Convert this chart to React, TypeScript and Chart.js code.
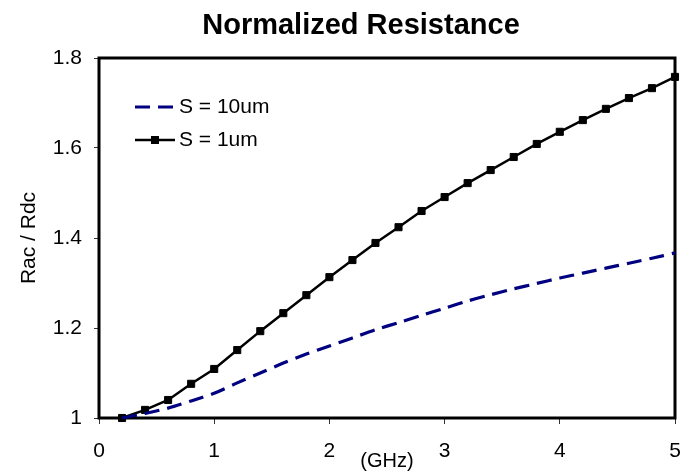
import React, { useEffect, useRef } from "react";
import { Chart, registerables } from "chart.js";

Chart.register(...registerables);

const FONT = "'Liberation Sans', Arial, Helvetica, sans-serif";

const chartTitle = "Normalized Resistance";
const xAxisTitle = "(GHz)";
const yAxisTitle = "Rac / Rdc";
const seriesLabels = ["S = 10um", "S = 1um"];

const frequencyGHz = [
  0.2, 0.4, 0.6, 0.8, 1.0, 1.2, 1.4, 1.6, 1.8, 2.0, 2.2, 2.4, 2.6,
  2.8, 3.0, 3.2, 3.4, 3.6, 3.8, 4.0, 4.2, 4.4, 4.6, 4.8, 5.0,
];

const s10umValues = [
  1.0, 1.01, 1.022, 1.038, 1.055, 1.078, 1.1, 1.122, 1.142, 1.16, 1.178,
  1.196, 1.212, 1.228, 1.244, 1.26, 1.274, 1.287, 1.299, 1.311, 1.322,
  1.333, 1.344, 1.355, 1.367,
];

const s1umValues = [
  1.0, 1.018, 1.04, 1.076, 1.109, 1.151, 1.193, 1.233, 1.273, 1.313, 1.351,
  1.389, 1.424, 1.46, 1.491, 1.522, 1.551, 1.58, 1.609, 1.636, 1.662,
  1.687, 1.711, 1.733, 1.758,
];

const xTickValues = [0, 1, 2, 3, 4, 5];
const yTickValues = [1, 1.2, 1.4, 1.6, 1.8];

const NAVY = "#000080";

export default function App() {
  const canvasRef = useRef<HTMLCanvasElement | null>(null);

  useEffect(() => {
    const canvas = canvasRef.current;
    if (!canvas) return;

    const framePlugin = {
      id: "frameBox",
      beforeDatasetsDraw(chart: any) {
        const { ctx, chartArea } = chart;
        ctx.save();
        ctx.strokeStyle = "#000";
        ctx.lineWidth = 3;
        ctx.strokeRect(
          chartArea.left,
          chartArea.top,
          chartArea.right - chartArea.left,
          chartArea.bottom - chartArea.top
        );
        ctx.restore();
      },
    };

    const titlePlugin = {
      id: "customTitle",
      afterDraw(chart: any) {
        const { ctx } = chart;
        ctx.save();
        ctx.fillStyle = "#000";
        ctx.font = `bold 29px ${FONT}`;
        ctx.textAlign = "center";
        ctx.textBaseline = "middle";
        ctx.fillText(chartTitle, 361, 26);
        ctx.restore();
      },
    };

    const legendPlugin = {
      id: "insideLegend",
      afterDatasetsDraw(chart: any) {
        const { ctx, chartArea } = chart;
        const x0 = chartArea.left + 36;
        const x1 = chartArea.left + 76;
        const y0 = chartArea.top + 49;
        const y1 = chartArea.top + 82;
        ctx.save();
        ctx.strokeStyle = NAVY;
        ctx.lineWidth = 3;
        ctx.setLineDash([15, 8]);
        ctx.beginPath();
        ctx.moveTo(x0, y0);
        ctx.lineTo(x1, y0);
        ctx.stroke();
        ctx.setLineDash([]);
        ctx.strokeStyle = "#000";
        ctx.lineWidth = 2.5;
        ctx.beginPath();
        ctx.moveTo(x0, y1);
        ctx.lineTo(x1, y1);
        ctx.stroke();
        ctx.fillStyle = "#000";
        ctx.fillRect((x0 + x1) / 2 - 4, y1 - 4, 8, 8);
        ctx.font = `21px ${FONT}`;
        ctx.textAlign = "left";
        ctx.textBaseline = "middle";
        ctx.fillText(seriesLabels[0], x1 + 4, y0);
        ctx.fillText(seriesLabels[1], x1 + 4, y1);
        ctx.restore();
      },
    };

    const chart = new Chart(canvas, {
      type: "line",
      data: {
        datasets: [
          {
            label: seriesLabels[0],
            data: frequencyGHz.map((x, i) => ({ x, y: s10umValues[i] })),
            borderColor: NAVY,
            borderWidth: 3.2,
            borderDash: [15, 8],
            pointRadius: 0,
            tension: 0.3,
            fill: false,
            clip: false as any,
          },
          {
            label: seriesLabels[1],
            data: frequencyGHz.map((x, i) => ({ x, y: s1umValues[i] })),
            borderColor: "#000",
            borderWidth: 2.5,
            pointStyle: "rect",
            pointRadius: 5,
            pointBackgroundColor: "#000",
            pointBorderColor: "#000",
            pointBorderWidth: 1,
            tension: 0,
            fill: false,
            clip: false as any,
          },
        ],
      },
      options: {
        animation: false,
        responsive: false,
        maintainAspectRatio: false,
        layout: { padding: { top: 58, right: 14, left: 0, bottom: 0 } },
        plugins: {
          legend: { display: false },
          title: { display: false },
          tooltip: { enabled: false },
        },
        scales: {
          x: {
            type: "linear",
            min: 0,
            max: 5,
            afterFit: (scale: any) => {
              scale.height = 55;
              scale.paddingLeft = 0;
              scale.paddingRight = 0;
            },
            afterBuildTicks: (scale: any) => {
              scale.ticks = xTickValues.map((v) => ({ value: v }));
            },
            ticks: {
              color: "#000",
              font: { family: FONT, size: 21 },
              padding: 15,
              maxRotation: 0,
              callback: (v: any) => String(v),
            },
            grid: {
              drawOnChartArea: false,
              drawTicks: true,
              tickLength: 6,
              color: "#333",
              lineWidth: 1,
            },
            border: { display: false },
            title: {
              display: true,
              text: xAxisTitle,
              color: "#000",
              font: { family: FONT, size: 20 },
              padding: { top: 0, bottom: 0 },
            },
          },
          y: {
            type: "linear",
            min: 1,
            max: 1.8,
            afterFit: (scale: any) => {
              scale.width = 99;
            },
            afterBuildTicks: (scale: any) => {
              scale.ticks = yTickValues.map((v) => ({ value: v }));
            },
            ticks: {
              color: "#000",
              font: { family: FONT, size: 21 },
              padding: 12,
              callback: (v: any) => String(Math.round(v * 10) / 10),
            },
            grid: {
              drawOnChartArea: false,
              drawTicks: true,
              tickLength: 5,
              color: "#333",
              lineWidth: 1,
            },
            border: { display: false },
            title: {
              display: true,
              text: yAxisTitle,
              color: "#000",
              font: { family: FONT, size: 21 },
              padding: { top: 17, bottom: 0 },
            },
          },
        },
      },
      plugins: [framePlugin, legendPlugin, titlePlugin],
    });

    return () => {
      chart.destroy();
    };
  }, []);

  return (
    <div style={{ position: "absolute", left: 0, top: 0, width: 689, height: 473 }}>
      <canvas ref={canvasRef} width={689} height={473} style={{ display: "block" }} />
    </div>
  );
}
